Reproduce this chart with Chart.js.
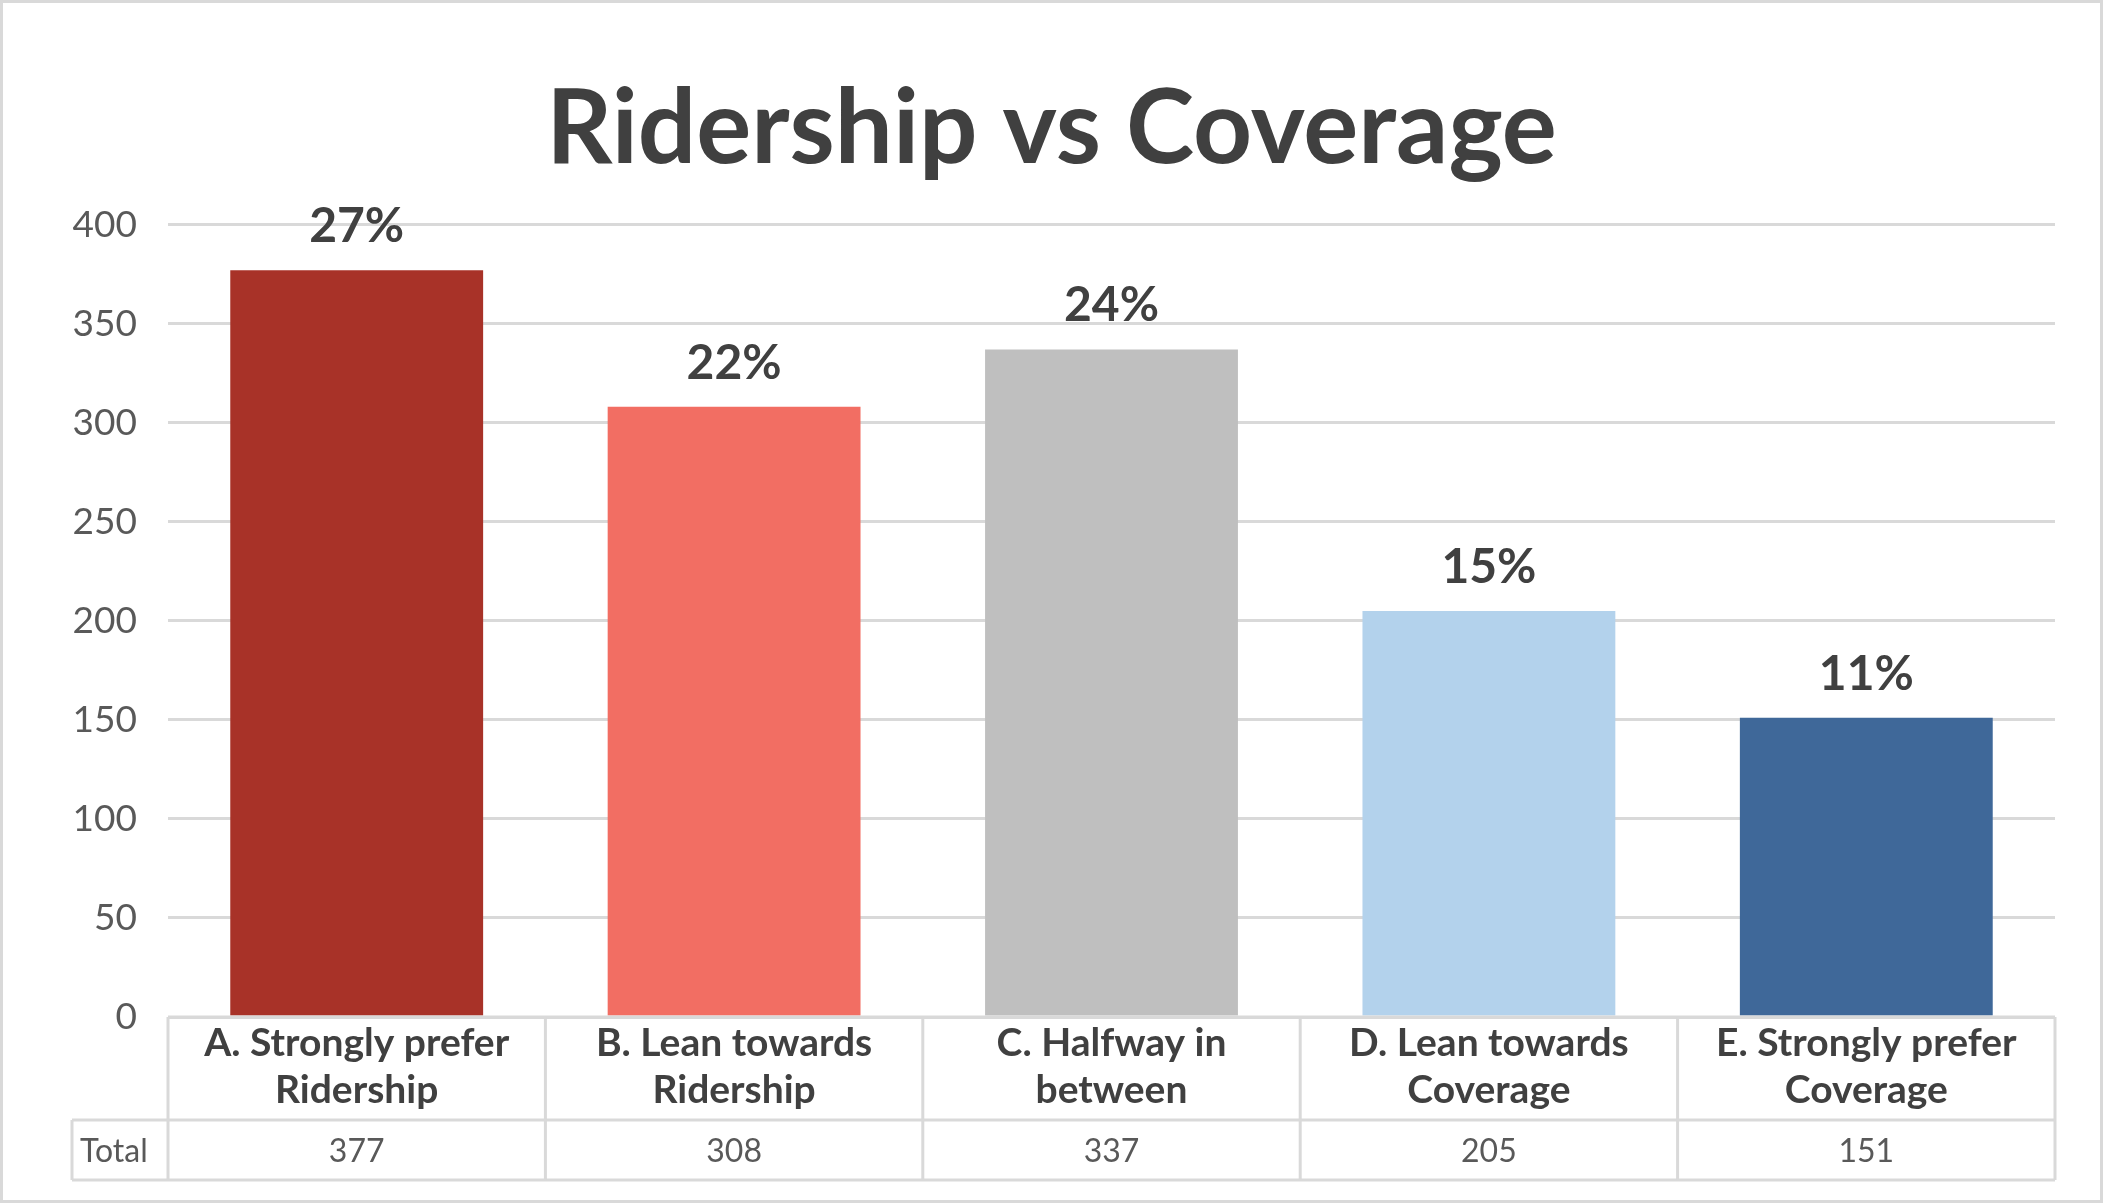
<!DOCTYPE html>
<html>
<head>
<meta charset="utf-8">
<script src="https://cdn.jsdelivr.net/npm/chart.js@4.4.1/dist/chart.umd.min.js"></script>
<style>
    html, body { margin: 0; padding: 0; background: #fff; }
</style>
</head>
<body>
<canvas id="ridershipChart" width="2103" height="1203"></canvas>
<script>
// values
const categories = [
    ['A. Strongly prefer', 'Ridership'],
    ['B. Lean towards', 'Ridership'],
    ['C. Halfway in', 'between'],
    ['D. Lean towards', 'Coverage'],
    ['E. Strongly prefer', 'Coverage']
];
const totals = [377, 308, 337, 205, 151];
const percentLabels = ['27%', '22%', '24%', '15%', '11%'];
const barColors = ['#a83228', '#f26e63', '#bfbfbf', '#b3d2ec', '#3f6899'];
const yMax = 400;
const yStep = 50;

const FONT = 'Lato, "Open Sans", sans-serif';
const GRID = '#d9d9d9';

// white page with thin grey frame
const framePlugin = {
    id: 'frame',
    beforeDraw(chart) {
        const ctx = chart.ctx;
        ctx.save();
        ctx.fillStyle = '#fff';
        ctx.fillRect(0, 0, chart.width, chart.height);
        ctx.strokeStyle = GRID;
        ctx.lineWidth = 3;
        ctx.strokeRect(1.5, 1.5, chart.width - 3, chart.height - 3);
        ctx.restore();
    }
};

// percentage labels above each bar
const percentPlugin = {
    id: 'percentLabels',
    afterDatasetsDraw(chart) {
        const ctx = chart.ctx;
        const meta = chart.getDatasetMeta(0);
        ctx.save();
        ctx.fillStyle = '#404040';
        ctx.font = 'bold 48px ' + FONT;
        ctx.textAlign = 'center';
        ctx.textBaseline = 'alphabetic';
        meta.data.forEach((bar, i) => {
            ctx.fillText(percentLabels[i], bar.x, bar.y - 28);
        });
        ctx.restore();
    }
};

// data table under the plot (category row + Total row)
const tablePlugin = {
    id: 'dataTable',
    afterDraw(chart) {
        const ctx = chart.ctx;
        const area = chart.chartArea;
        const xScale = chart.scales.x;
        const n = categories.length;
        const step = (area.right - area.left) / n;
        const top = area.bottom;
        const mid = top + 103;
        const bottom = top + 163;
        const totalLeft = 72;

        const line = (x1, y1, x2, y2) => {
            ctx.beginPath();
            ctx.moveTo(x1, y1);
            ctx.lineTo(x2, y2);
            ctx.stroke();
        };

        ctx.save();
        ctx.strokeStyle = GRID;
        ctx.lineWidth = 3;
        line(area.left, top, area.right, top);
        line(totalLeft, mid, area.right, mid);
        line(totalLeft, bottom, area.right, bottom);
        for (let i = 0; i <= n; i++) {
            const xx = area.left + i * step;
            line(xx, top, xx, bottom);
        }
        line(totalLeft, mid, totalLeft, bottom);

        ctx.textAlign = 'center';
        ctx.textBaseline = 'alphabetic';
        categories.forEach((lab, i) => {
            const cx = xScale.getPixelForValue(i);
            ctx.fillStyle = '#404040';
            ctx.font = 'bold 39px ' + FONT;
            lab.forEach((txt, j) => ctx.fillText(txt, cx, top + 39 + j * 47));
            ctx.fillStyle = '#595959';
            ctx.font = '32px ' + FONT;
            ctx.fillText(String(totals[i]), cx, mid + 42);
        });
        ctx.textAlign = 'left';
        ctx.fillText('Total', totalLeft + 8, mid + 42);
        ctx.restore();
    }
};

const ctx = document.getElementById('ridershipChart').getContext('2d');

new Chart(ctx, {
    type: 'bar',
    data: {
        labels: categories,
        datasets: [{
            data: totals,
            backgroundColor: barColors,
            borderWidth: 0,
            barPercentage: 0.67,
            categoryPercentage: 1
        }]
    },
    options: {
        responsive: false,
        devicePixelRatio: 1,
        animation: false,
        layout: {
            padding: { left: 48, right: 48, top: 0, bottom: 186 }
        },
        plugins: {
            legend: { display: false },
            tooltip: { enabled: false },
            title: {
                display: true,
                text: 'Ridership vs Coverage',
                color: '#404040',
                font: { family: FONT, size: 103, weight: 'bold' },
                padding: { top: 68, bottom: 33 }
            }
        },
        scales: {
            x: {
                display: false
            },
            y: {
                min: 0,
                max: yMax,
                border: { display: false },
                grid: { color: GRID, lineWidth: 3, drawTicks: false },
                ticks: {
                    stepSize: yStep,
                    padding: 31,
                    color: '#595959',
                    font: { family: FONT, size: 37 }
                },
                afterFit(scale) {
                    scale.width = 120;
                }
            }
        }
    },
    plugins: [framePlugin, percentPlugin, tablePlugin]
});
</script>
</body>
</html>
